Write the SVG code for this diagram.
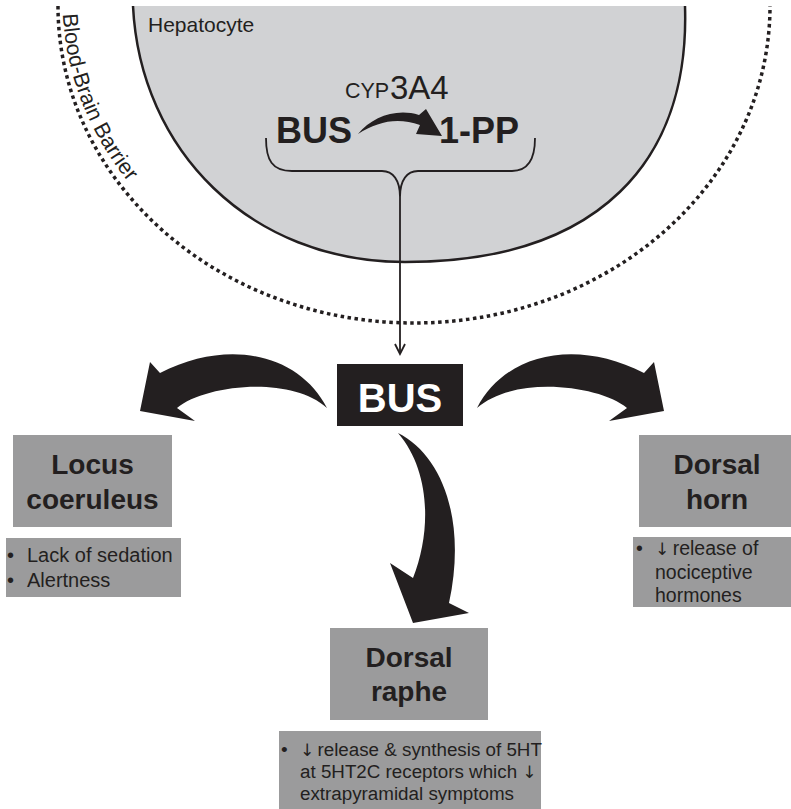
<svg xmlns="http://www.w3.org/2000/svg" width="791" height="809" viewBox="0 0 791 809">
<defs>
<style>
.t{font-family:"Liberation Sans",Arial,sans-serif;fill:#231f20}
.b{font-weight:bold}
.ar{font-family:"DejaVu Sans","Liberation Sans",sans-serif;font-size:17px;letter-spacing:-2px;fill:#231f20}
.box{fill:#9b9b9c}
.ln{fill:none;stroke:#231f20;stroke-width:1.8}
.big{fill:#231f20}
</style>
<path id="bbbPath" d="M62.5,0 A351.5 312.5 0 0 0 414,312.5"/>
</defs>
<rect width="791" height="809" fill="#ffffff"/>

<g id="bbb">
<path d="M58,6 A356 317 0 0 0 770,6" fill="none" stroke="#231f20" stroke-width="3.5" stroke-dasharray="3.5 3.5"/>
<text class="t" font-size="21.5"><textPath href="#bbbPath" startOffset="14">Blood-Brain Barrier</textPath></text>
</g>

<g id="hepatocyte">
<path d="M133,6 C140,150 250,262 405,262 C600,262 690,160 685,6 Z" fill="#d1d2d4"/>
<path d="M133,6 C140,150 250,262 405,262 C600,262 690,160 685,6" fill="none" stroke="#231f20" stroke-width="2.5"/>
<text class="t" x="148" y="32" font-size="21">Hepatocyte</text>
<text class="t" x="345" y="98" font-size="21.5">CYP</text>
<text class="t" x="390" y="99" font-size="33">3A4</text>
<text class="t b" x="276" y="143" font-size="36">BUS</text>
<text class="t b" x="439" y="143" font-size="36">1-PP</text>
<path class="big" d="M358,134 C372,117 396,108 419,115 L426,109 L442,136 L416,134 L420,125 C398,117 378,121 358,134 Z"/>
</g>

<g id="connectors">
<path class="ln" d="M266,138 C266,160 272,171 292,171 L382,171 C393,171 400,180 400,197 C400,180 407,171 418,171 L512,171 C528,171 535,160 535,138"/>
<path class="ln" d="M400,197 L400,353"/>
<path class="ln" d="M395,344 L400,354 L405,344"/>
<path id="arrow-left" class="big" d="M327,408 C300,355 230,337 160,373 L150,362 L140,411 L195,421 L177,408 C205,385 290,375 327,408 Z"/>
<path id="arrow-right" class="big" transform="translate(804,0) scale(-1,1)" d="M327,408 C300,355 230,337 160,373 L150,362 L140,411 L195,421 L177,408 C205,385 290,375 327,408 Z"/>
<path id="arrow-down" class="big" d="M398,433 C442,455 467,520 449,603 L469,613 L413,623 L390,563 L413,578 C432,530 430,470 398,433 Z"/>
</g>

<g id="bus">
<rect x="337" y="364" width="126" height="62" fill="#231f20"/>
<text class="b" x="400" y="412" font-size="40" text-anchor="middle" font-family="Liberation Sans, Arial, sans-serif" fill="#ffffff">BUS</text>
</g>

<g id="locus">
<rect class="box" x="13" y="435" width="159" height="92"/>
<text class="t b" x="92.5" y="474" font-size="28" text-anchor="middle">Locus</text>
<text class="t b" x="92.5" y="509" font-size="28" text-anchor="middle">coeruleus</text>
</g>
<g id="locus-effects">
<rect class="box" x="6" y="538" width="175" height="59"/>
<text class="t" x="7" y="562" font-size="20">•</text>
<text class="t" x="27" y="562" font-size="20">Lack of sedation</text>
<text class="t" x="7" y="587" font-size="20">•</text>
<text class="t" x="27" y="587" font-size="20">Alertness</text>
</g>

<g id="horn">
<rect class="box" x="639" y="435" width="152" height="92"/>
<text class="t b" x="717" y="474" font-size="28" text-anchor="middle">Dorsal</text>
<text class="t b" x="717" y="509" font-size="28" text-anchor="middle">horn</text>
</g>
<g id="horn-effects">
<rect class="box" x="633" y="537" width="158" height="70"/>
<text class="t" x="636" y="555" font-size="19.5">•</text>
<text class="t" x="655" y="555" font-size="19.5"><tspan class="ar">↓</tspan> release of</text>
<text class="t" x="655" y="579" font-size="19.5">nociceptive</text>
<text class="t" x="655" y="602" font-size="19.5">hormones</text>
</g>

<g id="raphe">
<rect class="box" x="330" y="628" width="158" height="92"/>
<text class="t b" x="409" y="667" font-size="28" text-anchor="middle">Dorsal</text>
<text class="t b" x="409" y="701" font-size="28" text-anchor="middle">raphe</text>
</g>
<g id="raphe-effects">
<rect class="box" x="279" y="731" width="262" height="78"/>
<text class="t" x="281" y="756" font-size="19">•</text>
<text class="t" x="300" y="756" font-size="18.8"><tspan class="ar">↓</tspan> release &amp; synthesis of 5HT</text>
<text class="t" x="300" y="778" font-size="18.8">at 5HT2C receptors which <tspan class="ar">↓</tspan></text>
<text class="t" x="300" y="800" font-size="18.8">extrapyramidal symptoms</text>
</g>
</svg>
